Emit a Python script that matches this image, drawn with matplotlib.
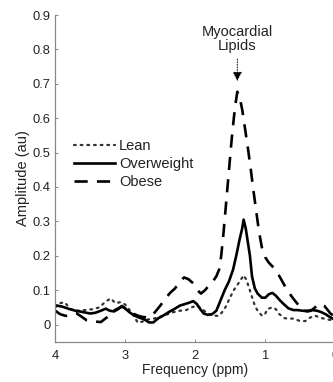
import matplotlib
matplotlib.use("Agg")
import matplotlib.pyplot as plt

plt.rcParams['font.family'] = ['Liberation Sans', 'DejaVu Sans']

# Frequency (ppm) and amplitude (au) for each group
lean_ppm = [4.0, 3.93, 3.87, 3.78, 3.7, 3.57, 3.45, 3.37, 3.29, 3.21, 3.14, 3.07, 3.0,
            2.95, 2.88, 2.82, 2.76, 2.7, 2.6, 2.54, 2.45, 2.33, 2.22, 2.13, 2.05, 1.98,
            1.92, 1.86, 1.8, 1.74, 1.67, 1.62, 1.57, 1.5, 1.45, 1.4, 1.35, 1.31, 1.27,
            1.23, 1.19, 1.15, 1.11, 1.05, 1.01, 0.97, 0.9, 0.85, 0.8, 0.72, 0.6, 0.5,
            0.43, 0.36, 0.29, 0.22, 0.12, 0.04, 0.0]
lean_amp = [0.05, 0.062, 0.065, 0.045, 0.04, 0.042, 0.045, 0.05, 0.065, 0.076, 0.062, 0.065, 0.058,
            0.045, 0.025, 0.005, 0.008, 0.014, 0.017, 0.02, 0.026, 0.035, 0.04, 0.042, 0.05, 0.055,
            0.048, 0.038, 0.03, 0.026, 0.025, 0.035, 0.05, 0.08, 0.1, 0.115, 0.13, 0.143, 0.13,
            0.105, 0.08, 0.055, 0.04, 0.026, 0.028, 0.045, 0.05, 0.045, 0.03, 0.018, 0.017, 0.01,
            0.01, 0.02, 0.026, 0.02, 0.015, 0.012, 0.01]

over_ppm = [4.0, 3.9, 3.8, 3.71, 3.6, 3.5, 3.43, 3.35, 3.28, 3.22, 3.16, 3.1, 3.05, 3.0,
            2.93, 2.86, 2.8, 2.73, 2.66, 2.6, 2.53, 2.45, 2.38, 2.3, 2.22, 2.14, 2.08, 2.03,
            1.98, 1.93, 1.88, 1.82, 1.76, 1.7, 1.64, 1.58, 1.52, 1.46, 1.41, 1.37, 1.33, 1.31,
            1.28, 1.25, 1.22, 1.19, 1.15, 1.11, 1.05, 1.0, 0.95, 0.9, 0.85, 0.79, 0.73, 0.67,
            0.6, 0.54, 0.47, 0.4, 0.33, 0.26, 0.2, 0.14, 0.08, 0.03, 0.0]
over_amp = [0.056, 0.052, 0.045, 0.04, 0.036, 0.032, 0.034, 0.04, 0.046, 0.04, 0.038, 0.045, 0.054, 0.046,
            0.034, 0.025, 0.02, 0.015, 0.006, 0.006, 0.018, 0.027, 0.036, 0.045, 0.055, 0.06, 0.064, 0.068,
            0.06, 0.045, 0.032, 0.028, 0.03, 0.04, 0.07, 0.1, 0.125, 0.16, 0.205, 0.245, 0.28, 0.305,
            0.28, 0.24, 0.2, 0.14, 0.105, 0.09, 0.078, 0.078, 0.088, 0.092, 0.084, 0.07, 0.058, 0.047,
            0.042, 0.042, 0.04, 0.04, 0.042, 0.04, 0.036, 0.03, 0.022, 0.016, 0.013]

obese_ppm = [4.0, 3.93, 3.85, 3.77, 3.7, 3.62, 3.55, 3.47, 3.4, 3.35, 3.28, 3.21, 3.15, 3.09,
             3.04, 2.98, 2.93, 2.87, 2.81, 2.75, 2.68, 2.62, 2.56, 2.5, 2.43, 2.36, 2.29, 2.22,
             2.16, 2.1, 2.03, 1.97, 1.92, 1.86, 1.8, 1.75, 1.7, 1.66, 1.63, 1.6, 1.57, 1.54,
             1.51, 1.48, 1.45, 1.42, 1.4, 1.37, 1.33, 1.29, 1.25, 1.21, 1.17, 1.13, 1.09, 1.05,
             1.0, 0.95, 0.88, 0.82, 0.77, 0.71, 0.66, 0.6, 0.54, 0.5, 0.45, 0.4, 0.35, 0.3,
             0.25, 0.2, 0.16, 0.12, 0.07, 0.02]
obese_amp = [0.04, 0.03, 0.025, 0.03, 0.033, 0.022, 0.012, 0.009, 0.008, 0.007, 0.018, 0.028, 0.042, 0.048,
             0.052, 0.045, 0.04, 0.03, 0.025, 0.022, 0.02, 0.025, 0.04, 0.055, 0.075, 0.092, 0.105, 0.125,
             0.137, 0.132, 0.12, 0.1, 0.09, 0.1, 0.115, 0.125, 0.14, 0.16, 0.2, 0.26, 0.33, 0.4,
             0.47, 0.54, 0.6, 0.65, 0.677, 0.665, 0.625, 0.57, 0.515, 0.455, 0.39, 0.33, 0.27, 0.225,
             0.195, 0.18, 0.165, 0.148, 0.13, 0.108, 0.092, 0.075, 0.06, 0.05, 0.04, 0.038, 0.04, 0.048,
             0.058, 0.06, 0.055, 0.045, 0.032, 0.025]

labels = ['Lean', 'Overweight', 'Obese']
y_ticks = [0, 0.1, 0.2, 0.3, 0.4, 0.5, 0.6, 0.7, 0.8, 0.9]
y_tick_labels = ['0', '0.1', '0.2', '0.3', '0.4', '0.5', '0.6', '0.7', '0.8', '0.9']
x_ticks = [4, 3, 2, 1, 0]
x_tick_labels = ['4', '3', '2', '1', '0']

fig = plt.figure(figsize=(3.33, 3.82), dpi=100)
ax = fig.add_axes([0.166, 0.1055, 0.841, 0.855])

ax.plot(lean_ppm, lean_amp, color='#333333', lw=1.6, linestyle=(0, (0.8, 2.2)),
        dash_capstyle='round', label=labels[0])
ax.plot(over_ppm, over_amp, color='black', lw=1.9, label=labels[1])
ax.plot(obese_ppm, obese_amp, color='black', lw=1.9, dashes=(5, 3.5), label=labels[2])

ax.set_xlim(4, 0)
ax.set_ylim(-0.05, 0.9)
ax.set_xticks(x_ticks)
ax.set_xticklabels(x_tick_labels)
ax.set_yticks(y_ticks)
ax.set_yticklabels(y_tick_labels)
ax.tick_params(direction='in', length=2.5, width=0.6, color='#777777',
               labelsize=9.3, labelcolor='#222222')
ax.tick_params(axis='x', pad=6)
ax.tick_params(axis='y', pad=3.5)
for s in ['top', 'right']:
    ax.spines[s].set_visible(False)
for s in ['left', 'bottom']:
    ax.spines[s].set_color('#888888')
    ax.spines[s].set_linewidth(0.9)

ax.set_xlabel('Frequency (ppm)', fontsize=10, color='#222222', labelpad=1)
ax.set_ylabel('Amplitude (au)', fontsize=10.5, color='#222222', labelpad=1.5)

ax.annotate('', xy=(1.40, 0.70), xytext=(1.40, 0.78),
            arrowprops=dict(arrowstyle='-|>,head_length=0.55,head_width=0.28',
                            color='black', lw=0.7, linestyle=':'))
ax.text(1.40, 0.79, 'Myocardial\nLipids', ha='center', va='bottom', fontsize=10.5,
        color='#222222', linespacing=1.0)

leg = ax.legend(loc='upper left', bbox_to_anchor=(74 / 333, 1 - 139 / 382),
                bbox_transform=fig.transFigure, frameon=False, fontsize=10.5,
                handlelength=2.8, handletextpad=0.3, labelspacing=0.28,
                borderpad=0, borderaxespad=0)
for t in leg.get_texts():
    t.set_color('#222222')

fig.savefig('out.png', dpi=100)
